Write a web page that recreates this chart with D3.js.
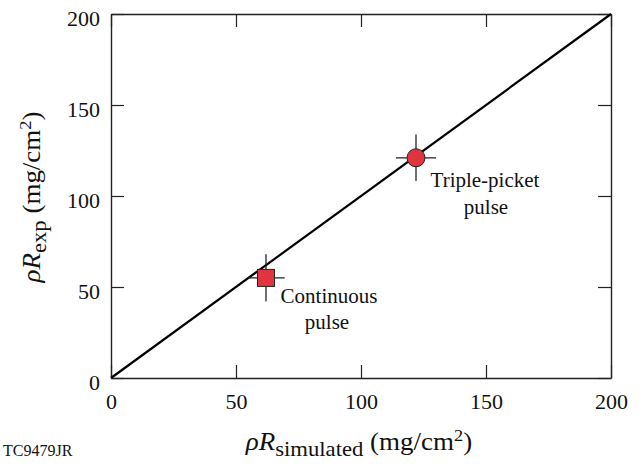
<!DOCTYPE html>
<html>
<head>
<meta charset="utf-8">
<script src="https://cdn.jsdelivr.net/npm/d3@7"></script>
<style>
  html, body { margin: 0; padding: 0; background: #fff; }
</style>
</head>
<body>
<svg id="chart" width="644" height="468"></svg>
<script>
// Areal density: measured vs simulated (mg/cm^2)
const pulseNames = ["Continuous pulse", "Triple-picket pulse"];
const simulated = [62, 122];
const measured = [55, 121];
const simErr = [7.5, 8];
const expErr = [13, 12.8];
const markerShapes = ["square", "circle"];
const tickValues = [0, 50, 100, 150, 200];
const identityLine = [0, 200];

const FONT = '"Liberation Serif"';
const svg = d3.select("#chart");
const plotL = 111, plotR = 611, plotT = 14, plotB = 378;

const x = d3.scaleLinear().domain([0, 200]).range([plotL, plotR]);
const y = d3.scaleLinear().domain([0, 200]).range([plotB, plotT]);

// Frame with inward ticks on all four sides
const tickLen = 13;
const axes = [
  d3.axisBottom(x).tickValues(tickValues).tickSizeInner(-tickLen).tickSizeOuter(0),
  d3.axisTop(x).tickValues(tickValues).tickSizeInner(-tickLen).tickSizeOuter(0).tickFormat(""),
  d3.axisLeft(y).tickValues(tickValues).tickSizeInner(-tickLen).tickSizeOuter(0),
  d3.axisRight(y).tickValues(tickValues).tickSizeInner(-tickLen).tickSizeOuter(0).tickFormat("")
];
const transforms = [
  `translate(0,${plotB})`, `translate(0,${plotT})`,
  `translate(${plotL},0)`, `translate(${plotR},0)`
];
const axisGroups = axes.map((ax, i) => {
  const g = svg.append("g").attr("transform", transforms[i]).call(ax)
    .attr("font-family", null).attr("font-size", null);
  g.selectAll("path.domain").attr("stroke", "#222").attr("stroke-width", 1.4);
  g.selectAll(".tick line").attr("stroke", "#222").attr("stroke-width", 1.2);
  g.selectAll(".tick text").style("font-family", FONT)
    .style("font-size", "22px").attr("fill", "#111");
  return g;
});
axisGroups[0].selectAll(".tick text").attr("y", 15).attr("dy", "0.71em");
axisGroups[2].selectAll(".tick text").attr("x", -11).attr("dy", "0.5em");

// Identity line y = x
svg.append("line")
  .attr("x1", x(identityLine[0])).attr("y1", y(identityLine[0]))
  .attr("x2", x(identityLine[1])).attr("y2", y(identityLine[1]))
  .attr("stroke", "#000").attr("stroke-width", 2.2);

// Error bars and markers
const pts = simulated.map((s, i) => ({
  sx: s, my: measured[i], ex: simErr[i], ey: expErr[i], shape: markerShapes[i]
}));

const eb = svg.append("g").attr("stroke", "#222").attr("stroke-width", 1.3);
pts.forEach(d => {
  eb.append("line").attr("x1", x(d.sx - d.ex)).attr("x2", x(d.sx + d.ex))
    .attr("y1", y(d.my)).attr("y2", y(d.my));
  eb.append("line").attr("x1", x(d.sx)).attr("x2", x(d.sx))
    .attr("y1", y(d.my - d.ey)).attr("y2", y(d.my + d.ey));
});

const mk = svg.append("g");
pts.forEach(d => {
  if (d.shape === "square") {
    mk.append("rect").attr("x", x(d.sx) - 8.5).attr("y", y(d.my) - 8.5)
      .attr("width", 17).attr("height", 17)
      .attr("fill", "#e0353f").attr("stroke", "#222").attr("stroke-width", 1);
  } else {
    mk.append("circle").attr("cx", x(d.sx)).attr("cy", y(d.my)).attr("r", 9)
      .attr("fill", "#e0353f").attr("stroke", "#222").attr("stroke-width", 1);
  }
});

function addText(parent) {
  return parent.append("text").style("font-family", FONT).attr("fill", "#111");
}

// Point annotations
const t1 = addText(svg).attr("text-anchor", "middle").style("font-size", "21px")
  .attr("y", y(measured[0]) + 25);
t1.append("tspan").attr("x", x(simulated[0]) + 63).text("Continuous");
t1.append("tspan").attr("x", x(simulated[0]) + 61).attr("dy", 26).text("pulse");
const t2 = addText(svg).attr("text-anchor", "middle").style("font-size", "21px")
  .attr("y", y(measured[1]) + 29);
t2.append("tspan").attr("x", x(simulated[1]) + 69).text("Triple-picket");
t2.append("tspan").attr("x", x(simulated[1]) + 70).attr("dy", 27).text("pulse");

// Axis titles: italic ρR, lowered subscript, raised exponent
function axisTitle(sel, sub) {
  sel.attr("text-anchor", "middle").style("font-size", "25px");
  sel.append("tspan").style("font-style", "italic").text("ρR");
  sel.append("tspan").attr("dy", 6).style("font-size", "21px").text(sub);
  sel.append("tspan").attr("dy", -6).text(" (mg/cm");
  sel.append("tspan").attr("dy", -9).style("font-size", "17px").text("2");
  sel.append("tspan").attr("dy", 9).text(")");
}
axisTitle(addText(svg).attr("transform", "translate(359,450) scale(1.08,1)"), "simulated");
axisTitle(addText(svg).attr("transform", "translate(40,197) rotate(-90) scale(1.08,1)"), "exp");

// Figure code
addText(svg).attr("x", 3).attr("y", 456).style("font-size", "16px").text("TC9479JR");
</script>
</body>
</html>
